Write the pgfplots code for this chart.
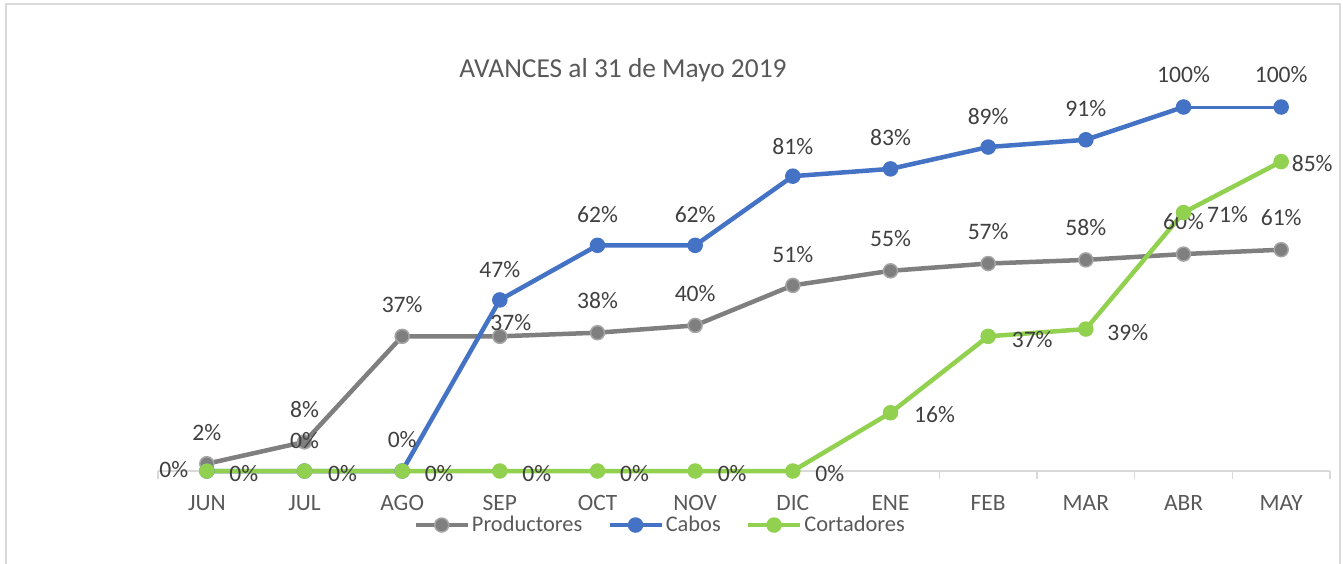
\documentclass[border=0pt]{standalone}
\usepackage{pgfplots}
\pgfplotsset{compat=1.18}
\usepackage{pgfplotstable}
\usepackage{fontspec}
\setmainfont{Carlito}
\definecolor{prodgray}{HTML}{7F7F7F}
\definecolor{prodedge}{HTML}{A5A5A5}
\definecolor{cabblue}{HTML}{4472C4}
\definecolor{cortgreen}{HTML}{92D050}
\definecolor{axisgray}{HTML}{D9D9D9}
\definecolor{textgray}{HTML}{595959}
\definecolor{labelgray}{HTML}{404040}

% x = month index, y = percent, dx/dy = label offset in px (dy upward)
\pgfplotstableread{
x y dx dy
0 2 0 31
1 8 0 32
2 37 0 32
3 37 11 14
4 38 0 32
5 40 0 32
6 51 0 31
7 55 0 32
8 57 0 32
9 58 0 32
10 59.6 0 33
11 60.8 0 32
}\prodtab

\pgfplotstableread{
x y dx dy
0 0 -33 1
1 0 0 30
2 0 0 31
3 47 0 30
4 62 0 31
5 62 0 31
6 81 0 30
7 83 0 31
8 89 0 31
9 91 0 31
10 100 0 32
10.5 nan 0 0
11 100 0 32
}\cabtab

\pgfplotstableread{
x y
10 100
11 100
}\cabseg

\pgfplotstableread{
x y dx dy
0 0 37 -3
1 0 38 -3
2 0 37 -3
3 0 37 -3
4 0 37 -3
5 0 37 -3
6 0 37 -3
7 16 44 -2
8 37 44 -3
9 39 42 -3
10 71 44 -2
11 85 31 -2
}\corttab

\pgfplotsset{
  lbl/.style={
    nodes near coords={\pgfmathprintnumber[fixed,precision=0,assume math mode=true]{\pgfplotspointmeta}\%},
    visualization depends on={\thisrow{dx} \as \dx},
    visualization depends on={\thisrow{dy} \as \dy},
    every node near coord/.append style={font=\fontsize{11.8}{13}\selectfont, text=labelgray, anchor=center, inner sep=0pt, xshift=\dx*0.5pt, yshift=\dy*0.5pt},
  }
}

\begin{document}
\begin{tikzpicture}
\useasboundingbox (0,0) rectangle (671.5pt,-281.5pt);
\draw[axisgray, line width=0.8pt] (3pt,-2pt) rectangle (670pt,-320pt);
\node[anchor=base, font=\fontsize{13.7}{16}\selectfont, text=textgray] at (311.5pt,-38.5pt) {AVANCES al 31 de Mayo 2019};
\begin{axis}[
  at={(79pt,-235.5pt)}, anchor=south west,
  scale only axis, width=586pt, height=182pt,
  xmin=-0.5, xmax=11.5, ymin=0, ymax=100,
  clip=false,
  axis x line*=bottom, axis y line=none,
  x axis line style={draw=axisgray, line width=0.75pt},
  xtick={0,...,11},
  xticklabels={JUN,JUL,AGO,SEP,OCT,NOV,DIC,ENE,FEB,MAR,ABR,MAY},
  ytick=\empty,
  major tick length=0pt,
  minor xtick={-0.5,0.5,...,11.5},
  minor tick length=4pt,
  tick align=outside,
  minor tick style={draw=axisgray, line width=0.75pt},
  xticklabel style={font=\fontsize{11.7}{13}\selectfont, text=textgray, anchor=base, yshift=-19.6pt},
  unbounded coords=jump,
  legend columns=3,
  legend cell align=left,
  legend image code/.code={\draw[mark repeat=2,mark phase=2,#1] plot coordinates {(0pt,0pt) (13pt,0pt) (26pt,0pt)};},
  legend style={at={(0.2176,-0.1484)}, anchor=west, draw=none, fill=none,
    font=\fontsize{11.2}{13}\selectfont, text=textgray, inner sep=0pt,
    nodes={inner sep=1pt},
    /tikz/every even column/.append style={column sep=11.5pt}},
]
\addplot[prodgray, line width=2.25pt, mark=*, mark size=3.5pt,
  mark options={solid, fill=prodgray, draw=prodedge, line width=0.75pt}, lbl]
  table[x=x,y=y] {\prodtab};
\addlegendentry{Productores}
\addplot[cabblue, line width=1.5pt, forget plot] table[x=x,y=y] {\cabseg};
\addplot[cabblue, line width=2.25pt, mark=*, mark size=3.5pt,
  mark options={solid, fill=cabblue, draw=cabblue, line width=0.75pt}, lbl]
  table[x=x,y=y] {\cabtab};
\addlegendentry{Cabos}
\addplot[cortgreen, line width=2.25pt, mark=*, mark size=3.5pt,
  mark options={solid, fill=cortgreen, draw=cortgreen, line width=0.75pt}, lbl]
  table[x=x,y=y] {\corttab};
\addlegendentry{Cortadores}
\end{axis}
\end{tikzpicture}
\end{document}
